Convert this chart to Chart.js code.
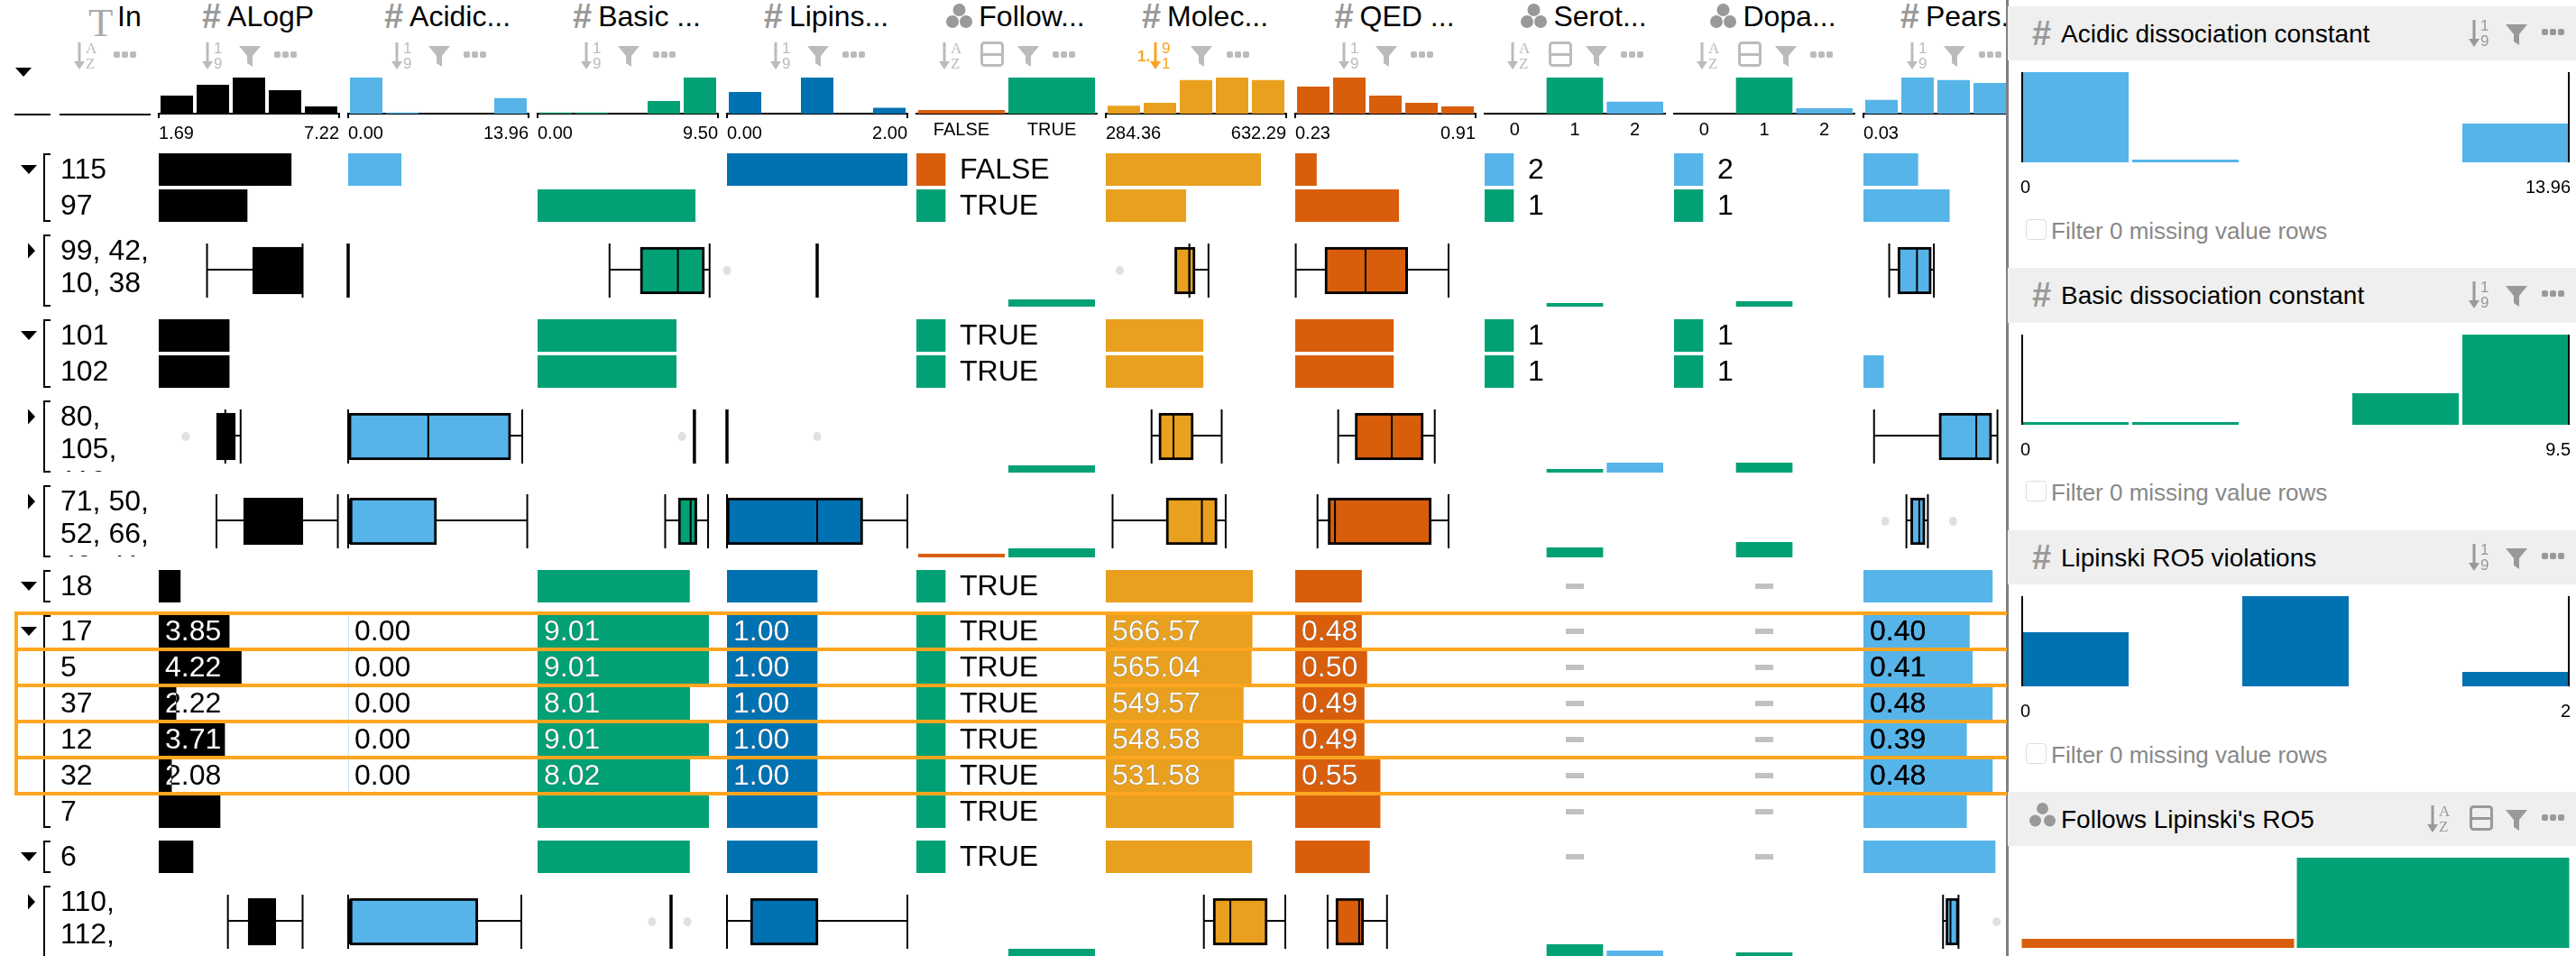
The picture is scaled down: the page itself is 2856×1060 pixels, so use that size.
<!DOCTYPE html>
<html>
<head>
<meta charset="utf-8">
<script src="https://cdn.jsdelivr.net/npm/chart.js@4"></script>
<style>
  html, body { margin: 0; width: 2856px; height: 1060px; overflow: hidden; background: #fff; font-family: "Liberation Sans", Arial, sans-serif; color: #000; }
  div, canvas, svg { position: absolute; }
  #table { left: 0; top: 0; width: 2225px; height: 1060px; overflow: hidden; }
  #divider { left: 2224px; top: 0; width: 3px; height: 1060px; background: #808080; }
  #icons { left: 0; top: 0; pointer-events: none; }
  .title { top: 1px; height: 34px; line-height: 34px; font-size: 32px; white-space: nowrap; }
  .hash { color: #999; font-weight: bold; font-size: 38px; }
  .cell { font-size: 32px; line-height: 36px; white-space: nowrap; }
  .ids { left: 67px; width: 104px; font-size: 32px; line-height: 36px; overflow: hidden; }
  .band { left: 2226px; width: 630px; background: #efefef; }
  .filter { left: 2274px; font-size: 26px; line-height: 30px; color: #888; white-space: nowrap; }
  .check { left: 2246px; width: 21px; height: 21px; border: 1px solid #ddd; border-radius: 4px; }
  .sel { left: 16px; width: 2220px; height: 36px; border: 4px solid #ffa51f; z-index: 5; }
</style>
</head>
<body>
<div id="table"></div>
<div id="divider"></div>
<script>
// row ids, one row per line of the table (groups are shown collapsed)
const rowIds = ["115", "97", "99, 42, 10, 38", "101", "102", "80, 105, 110, 113", "71, 50, 52, 66, 43, 41", "18", "17", "5", "37", "12", "32", "7", "6", "110, 112, 98, 34"];

// number = bar, array = boxplot [low, q1, median, q3, high, ...outliers]
const alogp = [5.75, 4.40, [3.17, 4.57, 5.3, 6.10, 6.10], 3.85, 3.85, [3.73, 3.46, 3.73, 4.04, 4.20, 2.52], [3.46, 4.29, 5.2, 6.11, 7.18], 2.35, 3.85, 4.22, 2.22, 3.71, 2.08, 3.57, 2.74, [3.81, 4.43, 4.9, 5.28, 6.10]];
const acidic = [4.1, null, [0, 0, 0, 0, 0], null, null, [0, 0.05, 6.2, 12.58, 13.47], [0, 0.14, 0.14, 6.84, 13.86], null, 0, 0, 0, 0, 0, null, null, [0, 0.14, 0.14, 10.04, 13.4]];
const basic = [null, 8.30, [3.79, 5.41, 7.39, 8.79, 9.06], 7.3, 7.3, [8.26, 8.26, 8.26, 8.26, 8.26, 7.6], [6.72, 7.41, 8.06, 8.39, 8.98], 8.0, 9.01, 9.01, 8.01, 9.01, 8.02, 9.01, 8.0, [7.03, 7.03, 7.03, 7.03, 7.03, 6.02, 7.89]];
const lipinski = [2, null, [1, 1, 1, 1, 1, 0], null, null, [0, 0, 0, 0, 0, 1], [0, 0, 1, 1.505, 2], 1, 1, 1, 1, 1, 1, 1, 1, [0, 0.26, 1, 1.01, 2]];
const molecular = [583, 438.7, [445.5, 417.3, 445.5, 456.6, 482.4, 311.3], 471.9, 471.9, [372.6, 386.7, 414.9, 453.2, 507.9], [297.4, 400.8, 469.7, 499, 515.6], 567.6, 566.57, 565.04, 549.57, 548.58, 531.58, 530.5, 566, [473.5, 491.4, 524.5, 595.8, 630.6]];
const qed = [0.31, 0.62, [0.232, 0.342, 0.495, 0.654, 0.808], 0.60, 0.60, [0.392, 0.456, 0.594, 0.713, 0.756], [0.314, 0.354, 0.38, 0.743, 0.808], 0.48, 0.48, 0.50, 0.49, 0.49, 0.55, 0.55, 0.51, [0.352, 0.383, 0.471, 0.488, 0.576]];
const pearson = [0.22, 0.33, [0.12, 0.15, 0.217, 0.267, 0.276], null, 0.10, [0.067, 0.294, 0.424, 0.478, 0.498], [0.18, 0.195, 0.225, 0.245, 0.255, 0.106, 0.343], 0.48, 0.40, 0.41, 0.48, 0.39, 0.48, 0.39, 0.49, [0.308, 0.318, 0.334, 0.362, 0.362, 0.495]];

// string = category of a single row, array = counts per category of a group, null = missing
const follows = ["FALSE", "TRUE", [0, 4], "TRUE", "TRUE", [0, 4], [2, 5], "TRUE", "TRUE", "TRUE", "TRUE", "TRUE", "TRUE", "TRUE", "TRUE", [0, 5]];
const serotonin = ["2", "1", [0, 2, 0], "1", "1", [0, 2, 5.5], [0, 5.5, 0], null, null, null, null, null, null, null, null, [0, 7.5, 4]];
const dopamine = ["2", "1", [0, 3, 0], "1", "1", [0, 5.5, 0], [0, 8.5, 0], null, null, null, null, null, null, null, null, [0, 3, 0]];

// histograms, percent of the tallest bin
const alogpHist = [50, 80, 100, 65, 20];
const acidicHist = [100, 3, 0, 0, 43];
const basicHist = [3, 3, 0, 35, 100];
const lipinskiHist = [60, 0, 100, 0, 16];
const followsHist = [10, 100];
const molecularHist = [22, 30, 93, 100, 93];
const qedHist = [75, 100, 50, 30, 20];
const serotoninHist = [0, 100, 33];
const dopamineHist = [0, 100, 15];
const pearsonHist = [38, 100, 93, 85, 70];

const followsCats = ["FALSE", "TRUE"];
const targetCats = ["0", "1", "2"];

const BLACK = "#000000", SKY = "#56b4e9", GREEN = "#02a075", BLUE = "#0072b2", RED = "#d85e0c", ORANGE = "#e8a01e";
const catColors = { FALSE: RED, TRUE: GREEN, "1": GREEN, "2": SKY };

const columns = [
  { title: "ALogP", kind: "num", rows: alogp, hist: alogpHist, min: 1.69, max: 7.22, color: BLACK, onBar: "#fff" },
  { title: "Acidic...", kind: "num", rows: acidic, hist: acidicHist, min: 0, max: 13.96, color: SKY, onBar: "#000" },
  { title: "Basic ...", kind: "num", rows: basic, hist: basicHist, min: 0, max: 9.5, color: GREEN, onBar: "#fff" },
  { title: "Lipins...", kind: "num", rows: lipinski, hist: lipinskiHist, min: 0, max: 2, color: BLUE, onBar: "#fff" },
  { title: "Follow...", kind: "cat", rows: follows, hist: followsHist, cats: followsCats },
  { title: "Molec...", kind: "num", rows: molecular, hist: molecularHist, min: 284.36, max: 632.29, color: ORANGE, onBar: "#fff", sorted: true },
  { title: "QED ...", kind: "num", rows: qed, hist: qedHist, min: 0.23, max: 0.91, color: RED, onBar: "#fff" },
  { title: "Serot...", kind: "cat", rows: serotonin, hist: serotoninHist, cats: targetCats },
  { title: "Dopa...", kind: "cat", rows: dopamine, hist: dopamineHist, cats: targetCats },
  { title: "Pears...", kind: "num", rows: pearson, hist: pearsonHist, min: 0.03, max: 0.66, color: SKY, onBar: "#000" }
];

// layout of the table
const rowTops = [170, 210, 260, 354, 394, 444, 538, 632, 682, 722, 762, 802, 842, 882, 932, 982];
const rowGroups = [[0, 1, "d"], [2, 2, "r"], [3, 4, "d"], [5, 5, "r"], [6, 6, "r"], [7, 7, "d"], [8, 13, "d"], [14, 14, "d"], [15, 15, "r"]];
const selectedRows = [8, 9, 10, 11, 12];
const colX = i => 176 + i * 210;
const FONT = '"Liberation Sans", Arial, sans-serif';

Chart.defaults.font.family = FONT;
Chart.defaults.animation = false;
Chart.defaults.plugins.legend.display = false;
Chart.defaults.plugins.tooltip.enabled = false;

const table = document.getElementById("table");

function newCanvas(parent, x, y, w, h) {
  const c = document.createElement("canvas");
  c.width = w; c.height = h;
  c.style.left = x + "px"; c.style.top = y + "px";
  c.style.width = w + "px"; c.style.height = h + "px";
  parent.appendChild(c);
  return c.getContext("2d");
}

function addDiv(parent, cls, x, y, html, extra) {
  const d = document.createElement("div");
  d.className = cls;
  if (x !== null) d.style.left = x + "px";
  if (y !== null) d.style.top = y + "px";
  if (extra) d.style.cssText += extra;
  d.innerHTML = html;
  parent.appendChild(d);
  return d;
}

// text of a cell, black with the part over the bar in another colour
const cellText = {
  id: "cellText",
  afterDraw(chart, args, o) {
    if (!o.text) return;
    const { ctx, chartArea: a } = chart;
    const barEnd = chart.getDatasetMeta(0).data[0].x;
    const cy = (a.top + a.bottom) / 2 + 1;
    ctx.save();
    ctx.font = "32px " + FONT;
    ctx.textBaseline = "middle";
    ctx.fillStyle = "#000";
    ctx.fillText(o.text, a.left + 7, cy);
    ctx.beginPath();
    ctx.rect(a.left, a.top, barEnd - a.left, a.bottom - a.top);
    ctx.clip();
    ctx.fillStyle = o.onBar;
    ctx.fillText(o.text, a.left + 7, cy);
    ctx.restore();
  }
};

// whiskers, median and outliers of a boxplot, placed with the x scale
const boxParts = {
  id: "boxParts",
  beforeDatasetsDraw(chart, args, o) {
    if (!o.box) return;
    const { ctx, scales: { x } } = chart;
    const cy = chart.height / 2;
    ctx.save();
    ctx.strokeStyle = "#000";
    ctx.lineWidth = 2;
    ctx.beginPath();
    ctx.moveTo(x.getPixelForValue(o.box[0]), cy - 1);
    ctx.lineTo(x.getPixelForValue(o.box[4]), cy - 1);
    ctx.stroke();
    ctx.fillStyle = "#e0e0e0";
    o.box.slice(5).forEach(v => {
      ctx.beginPath();
      ctx.ellipse(x.getPixelForValue(v), cy, 4.5, 5, 0, 0, Math.PI * 2);
      ctx.fill();
    });
    ctx.restore();
  },
  afterDatasetsDraw(chart, args, o) {
    if (!o.box) return;
    const { ctx, scales: { x } } = chart;
    const cy = chart.height / 2;
    const flat = o.box[0] === o.box[4];
    ctx.save();
    ctx.strokeStyle = "#000";
    const vline = (v, half, lw) => {
      ctx.lineWidth = lw;
      ctx.beginPath();
      ctx.moveTo(x.getPixelForValue(v), cy - half);
      ctx.lineTo(x.getPixelForValue(v), cy + half);
      ctx.stroke();
    };
    vline(o.box[0], 30, flat ? 3.5 : 2);
    if (!flat) {
      vline(o.box[4], 30, 2);
      vline(o.box[2], 25, 2);
    }
    ctx.restore();
  }
};

// black end marks of the histogram axis in the side panel
const endMarks = {
  id: "endMarks",
  afterDatasetsDraw(chart, args, o) {
    if (!o.show) return;
    const { ctx, chartArea: a } = chart;
    ctx.save();
    ctx.fillStyle = "#000";
    ctx.fillRect(a.left + 1, a.top, 2, a.bottom - a.top);
    ctx.fillRect(a.right - 3, a.top, 2, a.bottom - a.top);
    ctx.restore();
  }
};

Chart.register(cellText, boxParts, endMarks);

function hiddenScale(min, max) {
  return { display: false, min, max };
}

function barCell(col, v, top, text) {
  new Chart(newCanvas(table, col.x, top, 200, 36), {
    type: "bar",
    data: { labels: [""], datasets: [{ data: [v], backgroundColor: col.color, categoryPercentage: 1, barPercentage: 1 }] },
    options: {
      responsive: false, devicePixelRatio: 1, indexAxis: "y",
      scales: { x: hiddenScale(col.min, col.max), y: { display: false } },
      plugins: { cellText: { text, onBar: col.onBar } }
    }
  });
}

function boxCell(col, box, top) {
  const hasBox = box[1] !== box[3];
  new Chart(newCanvas(table, col.x - 10, top, 220, 80), {
    type: "bar",
    data: { labels: [""], datasets: [{ data: hasBox ? [[box[1], box[3]]] : [], backgroundColor: col.color, borderColor: "#000", borderWidth: 3, borderSkipped: false, barThickness: 52 }] },
    options: {
      responsive: false, devicePixelRatio: 1, indexAxis: "y",
      layout: { padding: { left: 10, right: 10 } },
      scales: { x: hiddenScale(col.min, col.max), y: { display: false } },
      plugins: { boxParts: { box } }
    }
  });
}

function swatchCell(col, cat, top) {
  new Chart(newCanvas(table, col.x, top, 200, 36), {
    type: "bar",
    data: { labels: [""], datasets: [{ data: [32], backgroundColor: catColors[cat], categoryPercentage: 1, barPercentage: 1 }] },
    options: {
      responsive: false, devicePixelRatio: 1, indexAxis: "y",
      scales: { x: hiddenScale(0, 200), y: { display: false } }
    }
  });
  addDiv(table, "cell", col.x + 48, top - 1, cat);
}

function groupCatCell(col, counts, top) {
  new Chart(newCanvas(table, col.x, top, 200, 80), {
    type: "bar",
    data: { labels: col.cats, datasets: [{ data: counts, backgroundColor: col.cats.map(c => catColors[c] || "#999"), categoryPercentage: col.cats.length === 2 ? 0.96 : 0.94, barPercentage: 1 }] },
    options: {
      responsive: false, devicePixelRatio: 1,
      scales: { x: { display: false }, y: hiddenScale(0, 40) }
    }
  });
}

// bottom axis of a numeric histogram: only the two ends of the range are labelled
function rangeAxis(min, max, fmt, opts) {
  const axis = Object.assign({
    type: "linear", position: "bottom", min, max, offset: false,
    afterBuildTicks: s => { s.ticks = [{ value: min }, { value: max }]; },
    afterFit: s => { s.height = 44; },
    ticks: { align: "inner", autoSkip: false, maxRotation: 0, color: "#000", font: { size: 20 }, padding: 5, callback: fmt }
  }, opts);
  axis.grid = Object.assign({ offset: false }, axis.grid);
  return axis;
}

function headerHist(col) {
  const isCat = col.kind === "cat";
  const colors = isCat ? col.cats.map(c => catColors[c] || "#999") : col.color;
  const labels = isCat ? col.cats : col.hist.map((v, i) => "bin" + i);
  const pct = isCat ? (col.cats.length === 2 ? 0.96 : 0.94) : 0.9;
  const scales = { y: hiddenScale(0, 100) };
  if (isCat) {
    scales.x = {
      grid: { display: false, drawTicks: false },
      border: { color: "#000", width: 2 },
      afterFit: s => { s.height = 44; },
      ticks: { color: "#000", font: { size: 20 }, padding: 6, maxRotation: 0, autoSkip: false }
    };
  } else {
    scales.x = { display: false };
    scales.x2 = rangeAxis(col.min, col.max, v => v.toFixed(2), {
      grid: { drawOnChartArea: false, drawTicks: true, tickLength: 5, color: "#000", lineWidth: 2 },
      border: { color: "#000", width: 2 }
    });
  }
  new Chart(newCanvas(table, col.x - 10, 86, 220, 84), {
    type: "bar",
    data: { labels, datasets: [{ data: col.hist, backgroundColor: colors, categoryPercentage: pct, barPercentage: 1 }] },
    options: { responsive: false, devicePixelRatio: 1, layout: { padding: { left: 10, right: 10 } }, scales }
  });
}

// ---- table ----
let svg = "";

function arrow(x, y, h, color) {
  return `<rect x="${x - 1.5}" y="${y}" width="3" height="${h - 7}" fill="${color}"/><path d="M${x - 6} ${y + h - 9}H${x + 6}L${x} ${y + h}Z" fill="${color}"/>`;
}
function sortIcon(x, y, marks, color) {
  const serif = marks[0] === "A" ? 'font-family="Liberation Serif"' : "";
  return arrow(x + 5, y, 30, color) +
    `<text x="${x + 12}" y="${y + 12}" font-size="17" ${serif} fill="${color}">${marks[0]}</text>` +
    `<text x="${x + 12}" y="${y + 29}" font-size="17" ${serif} fill="${color}">${marks[1]}</text>`;
}
function funnel(x, y, color) {
  return `<path d="M${x} ${y}H${x + 24}L${x + 15} ${y + 11}V${y + 23}L${x + 9} ${y + 19}V${y + 11}Z" fill="${color}"/>`;
}
function dots(x, y, color) {
  return [0, 9, 18].map(d => `<rect x="${x + d}" y="${y}" width="7" height="7" rx="2" fill="${color}"/>`).join("");
}
function boxIcon(x, y, color) {
  return `<rect x="${x + 1.5}" y="${y + 1.5}" width="23" height="25" rx="3" fill="none" stroke="${color}" stroke-width="3"/><rect x="${x}" y="${y + 13}" width="26" height="3" fill="${color}"/>`;
}
function cluster(x, y, color, r) {
  return `<circle cx="${x + 14.5}" cy="${y + r}" r="${r}" fill="${color}"/><circle cx="${x + r}" cy="${y + 20}" r="${r}" fill="${color}"/><circle cx="${x + 29 - r}" cy="${y + 20}" r="${r}" fill="${color}"/>`;
}
function triDown(x, y) { return `<path d="M${x} ${y}H${x + 18}L${x + 9} ${y + 10}Z" fill="#000"/>`; }
function triRight(x, y) { return `<path d="M${x} ${y}L${x + 8} ${y + 8.5}L${x} ${y + 17}Z" fill="#000"/>`; }

const ICON = "#bbbbbb", PANEL_ICON = "#999999";

// id column header
addDiv(table, "title", 98, -1, '<span style="font:45px \'Liberation Serif\';color:#aaa">T</span>');
addDiv(table, "title", 130, 1, "In");
addDiv(table, "", 16, 126, "", "width:40px;height:2px;background:#000");
addDiv(table, "", 66, 126, "", "width:101px;height:2px;background:#000");
svg += sortIcon(83, 47, ["A", "Z"], ICON) + dots(126, 57, ICON) + triDown(17, 75);

columns.forEach((col, i) => {
  col.x = colX(i);
  const icon = col.kind === "cat"
    ? `<svg width="31" height="30" style="position:relative;flex:none;margin-right:5px">${cluster(0, 1, "#999", 7)}</svg>`
    : '<span class="hash" style="margin-right:7px">#</span>';
  addDiv(table, "title", col.x, null, icon + "<span>" + col.title + "</span>", "width:220px;display:flex;justify-content:center;align-items:center");
  headerHist(col);

  if (col.kind === "cat") {
    svg += sortIcon(col.x + 26, 47, ["A", "Z"], ICON) + boxIcon(col.x + 71, 46, ICON) + funnel(col.x + 112, 51, ICON) + dots(col.x + 151, 57, ICON);
  } else if (col.sorted) {
    svg += `<text x="${col.x + 35}" y="68" font-size="17" font-weight="bold" fill="#fda31f">1.</text>` +
      sortIcon(col.x + 50, 47, ["9", "1"], "#fda31f") + funnel(col.x + 94, 51, ICON) + dots(col.x + 134, 57, ICON);
  } else {
    svg += sortIcon(col.x + 49, 47, ["1", "9"], ICON) + funnel(col.x + 89, 51, ICON) + dots(col.x + 128, 57, ICON);
  }

  col.rows.forEach((v, r) => {
    const top = rowTops[r];
    if (col.kind === "num") {
      if (v === null) return;
      if (Array.isArray(v)) boxCell(col, v, top);
      else barCell(col, v, top, selectedRows.includes(r) ? v.toFixed(2) : null);
    } else if (v === null) {
      addDiv(table, "", col.x + 90, top + 15, "", "width:20px;height:6px;background:#c1c1c1");
    } else if (Array.isArray(v)) {
      groupCatCell(col, v, top);
    } else {
      swatchCell(col, v, top);
    }
  });
});

// row ids, brackets and toggles
rowIds.forEach((txt, r) => {
  const h = txt.includes(",") ? 80 : 36;
  addDiv(table, "ids", null, rowTops[r] - 1, txt, `height:${h}px`);
});
rowGroups.forEach(([a, b, kind]) => {
  const top = rowTops[a];
  const bottom = rowTops[b] + (rowIds[b].includes(",") ? 80 : 36);
  addDiv(table, "", 48, top, "", `width:6px;height:${bottom - top - 4}px;border:2px solid #000;border-right:none`);
  svg += kind === "d" ? triDown(23, top + 13) : triRight(31, top + 9.5);
});

// selected rows
selectedRows.forEach(r => addDiv(table, "sel", null, rowTops[r] - 4, ""));

// ---- side panel ----
const panels = [
  { title: "Acidic dissociation constant", hist: acidicHist, color: SKY, bandTop: 7, bandH: 60, histTop: 80, max: 13.96, filterY: 241 },
  { title: "Basic dissociation constant", hist: basicHist, color: GREEN, bandTop: 297, bandH: 61, histTop: 371, max: 9.5, filterY: 531 },
  { title: "Lipinski RO5 violations", hist: lipinskiHist, color: BLUE, bandTop: 588, bandH: 60, histTop: 661, max: 2, filterY: 822 },
  { title: "Follows Lipinski's RO5", hist: followsHist, colors: [RED, GREEN], cats: followsCats, bandTop: 878, bandH: 60, histTop: 951 }
];

panels.forEach(p => {
  addDiv(document.body, "band", null, p.bandTop, "", `height:${p.bandH}px`);
  const lead = p.cats ? "" : '<span class="hash" style="position:absolute;left:-32px;top:-1px">#</span>';
  addDiv(document.body, "title", 2285, p.bandTop + 14, lead + p.title, "font-size:28px");
  const t = p.bandTop;
  if (p.cats) {
    svg += cluster(2250, t + 12, "#999", 6.5) + sortIcon(2692, t + 15, ["A", "Z"], PANEL_ICON) + boxIcon(2738, t + 15, PANEL_ICON);
  } else {
    svg += sortIcon(2738, t + 15, ["1", "9"], PANEL_ICON);
  }
  svg += funnel(2778, t + 20, PANEL_ICON) + dots(2818, t + 25, PANEL_ICON);

  const scales = { y: hiddenScale(0, 100), x: { display: false } };
  let h = 100;
  if (!p.cats) {
    h = 144;
    scales.x2 = rangeAxis(0, p.max, v => String(v), {
      grid: { display: false },
      border: { display: false }
    });
    scales.x2.ticks.padding = 8;
  }
  new Chart(newCanvas(document.body, 2230, p.histTop, 630, h), {
    type: "bar",
    data: {
      labels: p.cats || p.hist.map((v, i) => "bin" + i),
      datasets: [{ data: p.hist, backgroundColor: p.colors || p.color, categoryPercentage: p.cats ? 0.99 : 0.967, barPercentage: 1 }]
    },
    options: {
      responsive: false, devicePixelRatio: 1,
      layout: { padding: { left: 10, right: 10 } },
      scales,
      plugins: { endMarks: { show: !p.cats } }
    }
  });
  if (!p.cats) {
    addDiv(document.body, "check", null, p.filterY + 2, "");
    addDiv(document.body, "filter", null, p.filterY, "Filter 0 missing value rows");
  }
});

const ns = document.createElement("div");
ns.style.cssText = "left:0;top:0;width:2856px;height:1060px;pointer-events:none;z-index:4";
ns.innerHTML = `<svg id="icons" width="2856" height="1060" font-family="${FONT.replace(/"/g, "'")}">${svg}</svg>`;
document.body.appendChild(ns);
</script>
</body>
</html>
